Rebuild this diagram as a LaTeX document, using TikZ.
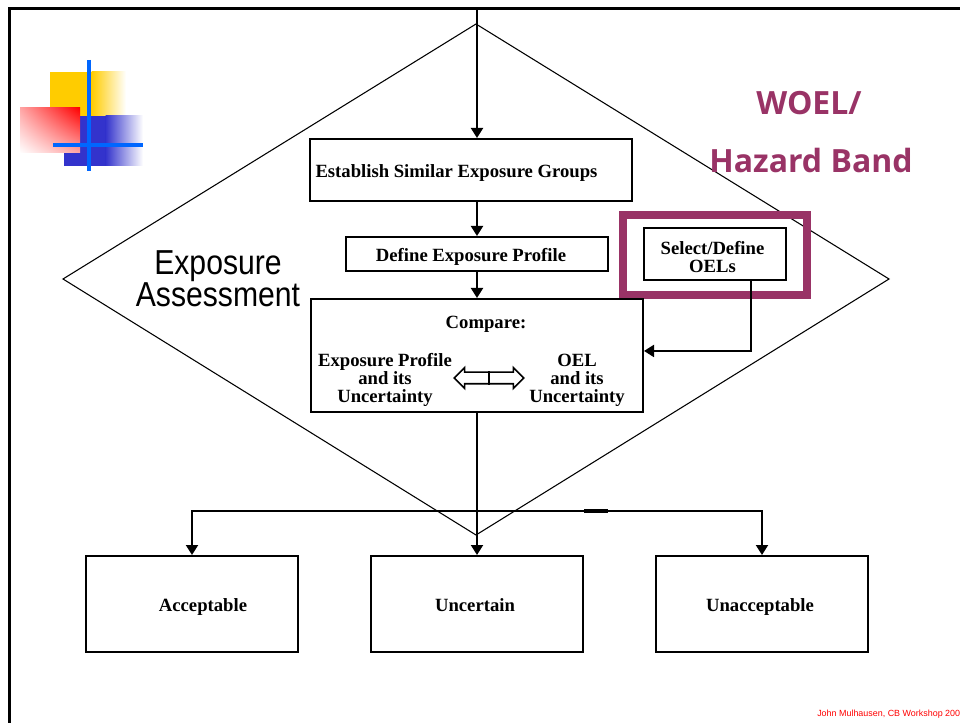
\documentclass[tikz,border=0pt]{standalone}
\usepackage{fontspec}
\setmainfont{Liberation Serif}
\newfontfamily\arialcond[FakeStretch=0.87]{Liberation Sans}
\newfontfamily\arialfont{Liberation Sans}
\newfontfamily\bandfont{Open Sans}
\usepackage{tikz}
\usetikzlibrary{positioning}
\usetikzlibrary{arrows.meta,shapes}
\usetikzlibrary{shadings}
\usetikzlibrary{calc}
\definecolor{plum}{RGB}{153,51,102}
\definecolor{logoblue}{RGB}{51,51,204}
\definecolor{lineblue}{RGB}{0,102,255}
\definecolor{logoyellow}{RGB}{255,204,0}
\tikzstyle{box}=[rectangle,draw,line width=1.5pt,fill=white,inner sep=0pt]
\tikzstyle{txt}=[font=\fontsize{14}{13.5}\selectfont\bfseries,align=center,inner sep=0pt]
\tikzstyle{lbl}=[txt,text height=9.5pt,text depth=4pt,yshift=-3pt]
\tikzstyle{edge}=[draw,line width=1.5pt,-{Triangle[width=9pt,length=7.5pt]}]
\tikzstyle{band}=[font=\bandfont\bfseries\fontsize{24}{28}\selectfont,text=plum,anchor=base,inner sep=0pt]

\begin{document}
\begin{tikzpicture}[x=0.75pt,y=-0.75pt]
\useasboundingbox (0,0) rectangle (960,723);
\clip (0,0) rectangle (960,723);

%logo
  \fill[logoyellow] (50,72) rectangle (92,118);
  \shade[left color=logoyellow,right color=white] (91.5,72) rectangle (126,118);
  \fill[logoblue] (64,116) rectangle (106,166);
  \shade[left color=logoblue,right color=white] (105.5,116) rectangle (143,166);
  \shade[upper right=red,lower left=white,upper left=red!35,lower right=red!35] (20,108) rectangle (80,153);
  \draw[lineblue,line width=3pt] (89,60) -- (89,171);
  \draw[lineblue,line width=3pt] (53,145) -- (143,145);

%frame
  \draw[line width=2.25pt] (9,740) -- (9,9) -- (975,9);

%diamond
  \coordinate (dtop) at (476,24);
  \coordinate (dleft) at (63,279);
  \coordinate (dbottom) at (476,535);
  \coordinate (dright) at (889,279);
  \draw[line width=0.8pt] (dtop) -- (dleft) -- (dbottom) -- (dright) -- cycle;

% Label
  \node[font=\arialcond\fontsize{26}{23.25}\selectfont,align=center,inner sep=0pt] (assess) at (218,279) {Exposure\\Assessment};
  \node[band] (woel) at (809,115) {WOEL/};
  \node[band] (hband) at (811,173) {Hazard Band};
  \node[font=\arialfont\fontsize{6.7}{8}\selectfont,text=red,anchor=base west,inner sep=0pt] (credit) at (817,716) {John Mulhausen, CB Workshop 200};

%highlight
  \draw[plum,line width=6pt] (623,215.5) rectangle (807,295);

%boxes
  \node[box,minimum width=241.5pt,minimum height=46.5pt] (groups) at (471,170) {};
  \node[lbl] (groups-lbl) at (456.5,170) {Establish Similar Exposure Groups};
  \node[box,minimum width=196.5pt,minimum height=25.5pt] (profile) at (477,254) {};
  \node[lbl] (profile-lbl) at (471,254) {Define Exposure Profile};
  \node[box,minimum width=106.5pt,minimum height=39pt] (oels) at (715,254) {};
  \node[txt] (oels-lbl) at (712.5,257) {Select/Define\\OELs};
  \node[box,minimum width=249pt,minimum height=84.75pt] (compare) at (477,355.5) {};

%outcomes
  \foreach \pos/\name/\label/\dx in {{(192,604)/acc/Acceptable/8.25pt}, {(477,604)/unc/Uncertain/-1.5pt}, {(762,604)/unacc/Unacceptable/-1.5pt}}
  {
      \node[box,minimum width=159pt,minimum height=72pt] (\name) at \pos {};
      \node[lbl] (\name-lbl) at ([xshift=\dx]\name.center) {\label};
  }

%compare
  \node[lbl] (cmptitle) at (486,321) {Compare:};
  \node[txt] (eptext) at (385,380) {Exposure Profile\\and its\\Uncertainty};
  \node[txt] (oeltext) at (577,380) {OEL\\and its\\Uncertainty};
  \node[double arrow,draw,line width=1.2pt,minimum height=52pt,minimum width=14pt,double arrow head extend=3.4pt,inner xsep=0pt,inner ysep=3.75pt] (dbl) at (489,378) {};
  \draw[line width=1.2pt] (dbl.north) -- (dbl.south);

% Edges
  \coordinate (entry) at (477,9);
  \coordinate (split) at (477,511);
  \draw[edge] (entry) -- (entry |- groups.north);
  \draw[edge] (groups.south -| profile.north) -- (profile.north);
  \draw[edge] (profile.south) -- (compare.north);
  \draw[edge] ([xshift=27pt]oels.south) |- ([yshift=3.4pt]compare.east);
  \draw[edge] (compare.south) -- (unc.north);
  \foreach \dest in {acc,unacc}
      \draw[edge] (split) -| (\dest.north);
  \draw[line width=2.6pt] (584,511) -- (608,511);

\end{tikzpicture}
\end{document}
